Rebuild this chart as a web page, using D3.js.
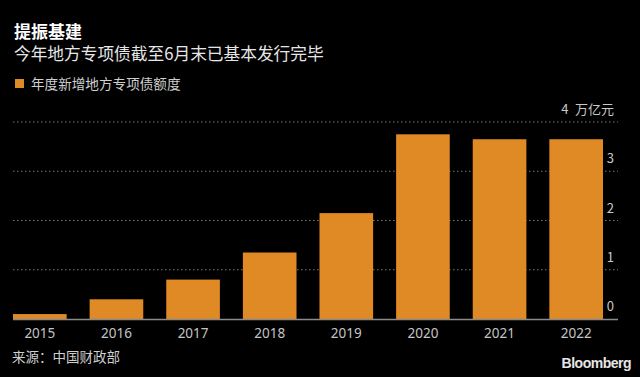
<!DOCTYPE html>
<html lang="zh">
<head>
<meta charset="UTF-8">
<title>提振基建</title>
<script src="https://unpkg.com/d3@7.8.0/dist/d3.min.js"></script>
<style>
    body { margin: 0; background: #000; }
    svg { display: block; font-family: "Noto Sans CJK SC", "Noto Sans", sans-serif; }
</style>
</head>
<body>
<script>
    // data (万亿元)
    const years = ['2015', '2016', '2017', '2018', '2019', '2020', '2021', '2022'];
    const quota = [0.1, 0.4, 0.8, 1.35, 2.15, 3.75, 3.65, 3.65];
    const yTicks = [0, 1, 2, 3, 4];

    const width = 640, height = 377;
    const margin = { top: 122, right: 22, bottom: 58, left: 13 };
    const innerwidth = width - margin.left - margin.right;
    const innerheight = height - margin.top - margin.bottom;
    const barColor = '#e08a26';

    const svg = d3.select('body').append('svg')
        .attr('width', width)
        .attr('height', height);

    svg.append('rect').attr('width', width).attr('height', height).attr('fill', '#000');

    // titles
    svg.append('text').attr('x', 14).attr('y', 38)
        .attr('fill', '#fff').style('font-size', '17px').style('font-weight', 'bold')
        .text('提振基建');
    svg.append('text').attr('x', 14).attr('y', 60)
        .attr('fill', '#e6e6e6').style('font-size', '16.7px')
        .text('今年地方专项债截至6月末已基本发行完毕');

    // legend
    svg.append('rect').attr('x', 15).attr('y', 79).attr('width', 9).attr('height', 9).attr('fill', barColor);
    svg.append('text').attr('x', 31).attr('y', 89)
        .attr('fill', '#cfcfcf').style('font-size', '13.6px')
        .text('年度新增地方专项债额度');

    const g = svg.append('g').attr('transform', `translate(${margin.left}, ${margin.top})`);

    const xScale = d3.scaleBand()
        .domain(years)
        .range([0, 590])
        .paddingInner(0.3)
        .paddingOuter(0);

    const yScale = d3.scaleLinear()
        .domain([0, 4])
        .range([innerheight, 0]);

    // grid lines
    g.selectAll('.grid').data(yTicks.filter(d => d > 0)).enter().append('line')
        .attr('class', 'grid')
        .attr('x1', 0).attr('x2', innerwidth)
        .attr('y1', d => yScale(d)).attr('y2', d => yScale(d))
        .attr('stroke', '#777').attr('stroke-width', 1)
        .attr('stroke-dasharray', '1.5,2.5');

    // tick labels on the right, above each line
    g.selectAll('.ytick').data(yTicks).enter().append('text')
        .attr('class', 'ytick')
        .attr('x', innerwidth - 4)
        .attr('y', d => yScale(d) - 8)
        .attr('text-anchor', 'end')
        .attr('fill', '#c8c8c8').style('font-size', '13px')
        .text(d => d === 4 ? '4\u2002万亿元' : d);

    // bars
    g.selectAll('.bar').data(quota).enter().append('rect')
        .attr('class', 'bar')
        .attr('x', (d, i) => xScale(years[i]))
        .attr('y', d => yScale(d))
        .attr('width', xScale.bandwidth())
        .attr('height', d => innerheight - yScale(d))
        .attr('fill', barColor);

    // baseline
    g.append('line')
        .attr('x1', 0).attr('x2', innerwidth)
        .attr('y1', innerheight + 0.5).attr('y2', innerheight + 0.5)
        .attr('stroke', '#8a8a8a').attr('stroke-width', 1.5);

    // x axis labels
    const xAxis = d3.axisBottom(xScale).tickSize(0).tickPadding(9);
    const xAxisG = g.append('g').attr('transform', `translate(0, ${innerheight})`).call(xAxis);
    xAxisG.select('.domain').remove();
    xAxisG.selectAll('.tick text')
        .attr('fill', '#c4c4c4')
        .style('font-size', '13.5px')
        .style('font-family', '"Noto Sans", sans-serif');

    // footer
    svg.append('text').attr('x', 12).attr('y', 362)
        .attr('fill', '#cfcfcf').style('font-size', '13.5px')
        .text('来源：中国财政部');
    svg.append('text').attr('x', 631).attr('y', 368)
        .attr('text-anchor', 'end')
        .attr('fill', '#e6e6e6').style('font-size', '14px').style('font-weight', 'bold')
        .style('font-family', '"Liberation Sans", Arial, sans-serif')
        .style('letter-spacing', '-0.5px')
        .text('Bloomberg');
</script>
</body>
</html>
